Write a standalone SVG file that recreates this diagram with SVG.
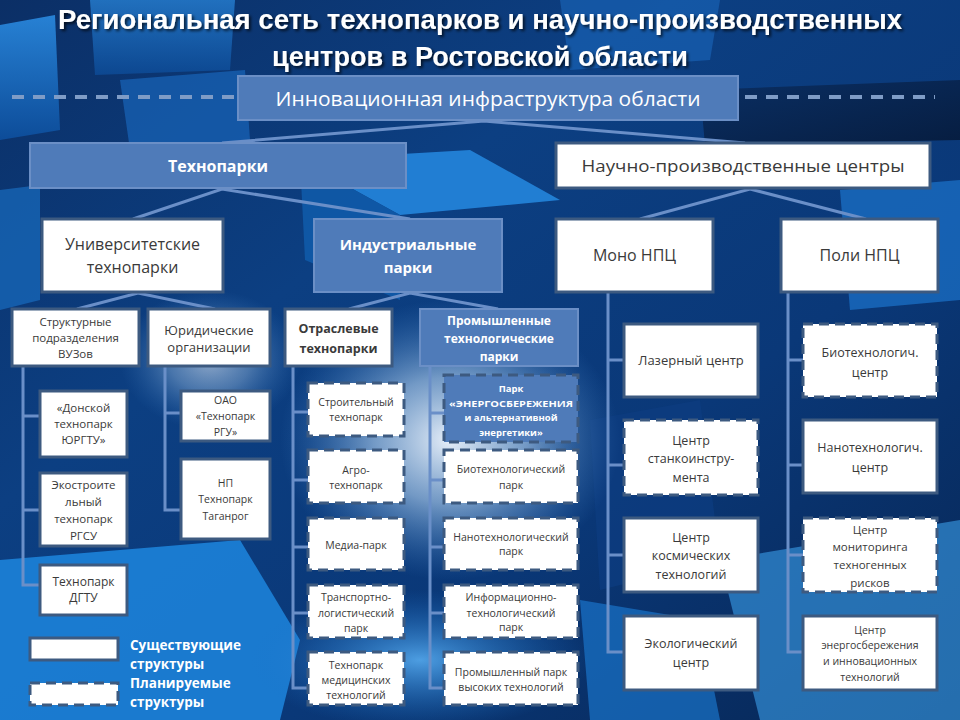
<svg xmlns="http://www.w3.org/2000/svg" width="960" height="720" viewBox="0 0 960 720">
<defs>
<linearGradient id="bg" x1="0" y1="0" x2="1" y2="1">
<stop offset="0" stop-color="#0b2f66"/>
<stop offset="0.35" stop-color="#0c3f82"/>
<stop offset="0.65" stop-color="#0a3878"/>
<stop offset="1" stop-color="#072654"/>
</linearGradient>
<linearGradient id="cubeA" x1="0" y1="0" x2="0" y2="1">
<stop offset="0" stop-color="#2a8ae0"/>
<stop offset="1" stop-color="#0d4f9e"/>
</linearGradient>
<linearGradient id="cubeB" x1="0" y1="0" x2="1" y2="1">
<stop offset="0" stop-color="#0a2d60"/>
<stop offset="1" stop-color="#061a3a"/>
</linearGradient>
<radialGradient id="glow" cx="0.5" cy="0.5" r="0.5">
<stop offset="0" stop-color="#f2f8ff" stop-opacity="0.95"/>
<stop offset="0.45" stop-color="#b8d8f6" stop-opacity="0.6"/>
<stop offset="1" stop-color="#4a90d8" stop-opacity="0"/>
</radialGradient>
<radialGradient id="glow2" cx="0.5" cy="0.5" r="0.5">
<stop offset="0" stop-color="#59b0f5" stop-opacity="0.85"/>
<stop offset="1" stop-color="#1a70c8" stop-opacity="0"/>
</radialGradient>
<filter id="shadow" x="-5%" y="-20%" width="110%" height="150%">
<feDropShadow dx="2" dy="2" stdDeviation="1.5" flood-color="#000" flood-opacity="0.7"/>
</filter>
<style>
.conn{stroke:#6a8fc8;stroke-width:3;fill:none}
.box{fill:#fff;stroke:#3d5a80;stroke-width:3}
.plan{fill:#fff;stroke:#3d5a80;stroke-width:3;stroke-dasharray:10 6}
.blue{fill:#4f7bb9;stroke:#6b8fc6;stroke-width:2}
.blueplan{fill:#4f7bb9;stroke:#3d5a80;stroke-width:3;stroke-dasharray:10 6}
text{font-family:"Open Sans","DejaVu Sans",sans-serif;text-anchor:middle;fill:#3a3a3a}
.w{fill:#fff}
.b{font-weight:bold}
.title{font-family:"Liberation Sans","Open Sans",sans-serif;font-weight:bold;font-size:27px;fill:#fff}
.leg{text-anchor:start;fill:#fff;font-weight:bold;font-size:13.5px}
</style>
</defs>

<g id="background">
<rect width="960" height="720" fill="url(#bg)"/>
<polygon points="0,25 55,15 60,130 0,140" fill="url(#cubeA)" opacity="0.9"/>
<polygon points="90,0 235,0 230,70 95,75" fill="url(#cubeA)" opacity="0.7"/>
<polygon points="120,80 245,70 250,140 130,150" fill="#1a6cc4" opacity="0.6"/>
<polygon points="300,160 470,150 560,200 400,215" fill="#2385dc" opacity="0.9"/>
<polygon points="300,160 400,215 400,300 305,260" fill="#0f5aa8" opacity="0.9"/>
<polygon points="560,0 720,0 710,60 570,70" fill="#1a68bd" opacity="0.6"/>
<polygon points="700,90 960,80 960,140 705,145" fill="url(#cubeB)" opacity="0.9"/>
<polygon points="840,190 960,180 960,300 850,310" fill="#1b74cc" opacity="0.7"/>
<polygon points="0,190 40,185 40,300 0,310" fill="#1b74cc" opacity="0.6"/>
<polygon points="0,560 240,540 300,640 280,720 0,720" fill="#1d86de" opacity="0.85"/>
<polygon points="720,560 960,520 960,720 760,720" fill="#3a9ee9" opacity="0.6"/>
<polygon points="590,420 700,400 720,560 600,590" fill="#0c3c80" opacity="0.8"/>
<polygon points="580,600 700,620 720,720 590,720" fill="#1d7fd8" opacity="0.6"/>
<ellipse cx="450" cy="440" rx="170" ry="140" fill="url(#glow)"/>
<ellipse cx="210" cy="360" rx="90" ry="70" fill="url(#glow)" opacity="0.6"/>
<ellipse cx="420" cy="660" rx="170" ry="70" fill="url(#glow2)"/>
</g>

<g id="title" filter="url(#shadow)">
<text class="title" x="480" y="29" textLength="844" lengthAdjust="spacingAndGlyphs">Региональная сеть технопарков и научно-производственных</text>
<text class="title" x="480" y="66" textLength="416" lengthAdjust="spacingAndGlyphs">центров в Ростовской области</text>
</g>

<g id="connectors">
<line x1="12" y1="97" x2="238" y2="97" stroke="#7f9cc6" stroke-width="4" stroke-dasharray="12 9"/>
<line x1="745" y1="97" x2="935" y2="97" stroke="#7f9cc6" stroke-width="4" stroke-dasharray="12 9"/>
<polyline class="conn" points="222,143 484,121 745,143"/>
<polyline class="conn" points="133,219 222,189 410,219"/>
<polyline class="conn" points="640,219 750,189 866,219"/>
<polyline class="conn" points="77,309 138,293 215,309"/>
<polyline class="conn" points="349,309 410,293 498,309"/>
<polyline class="conn" points="23,366 23,585 40,585"/>
<line class="conn" x1="23" y1="416" x2="40" y2="416"/>
<line class="conn" x1="23" y1="510" x2="40" y2="510"/>
<polyline class="conn" points="165,366 165,510 181,510"/>
<line class="conn" x1="165" y1="413" x2="181" y2="413"/>
<polyline class="conn" points="293,366 293,688 308,688"/>
<line class="conn" x1="293" y1="412" x2="308" y2="412"/>
<line class="conn" x1="293" y1="480" x2="308" y2="480"/>
<line class="conn" x1="293" y1="547" x2="308" y2="547"/>
<line class="conn" x1="293" y1="613" x2="308" y2="613"/>
<polyline class="conn" points="430,366 430,688 444,688"/>
<line class="conn" x1="430" y1="413" x2="444" y2="413"/>
<line class="conn" x1="430" y1="480" x2="444" y2="480"/>
<line class="conn" x1="430" y1="547" x2="444" y2="547"/>
<line class="conn" x1="430" y1="613" x2="444" y2="613"/>
<polyline class="conn" points="608,292 608,652 624,652"/>
<line class="conn" x1="608" y1="360" x2="624" y2="360"/>
<line class="conn" x1="608" y1="465" x2="624" y2="465"/>
<line class="conn" x1="608" y1="555" x2="624" y2="555"/>
<polyline class="conn" points="788,292 788,652 803,652"/>
<line class="conn" x1="788" y1="360" x2="803" y2="360"/>
<line class="conn" x1="788" y1="465" x2="803" y2="465"/>
<line class="conn" x1="788" y1="555" x2="803" y2="555"/>
</g>

<g id="n-infra">
<rect class="blue" x="238" y="76" width="500" height="44"/>
<text class="w" x="488" y="106" font-size="20" textLength="425" lengthAdjust="spacingAndGlyphs">Инновационная инфраструктура области</text>
</g>
<g id="n-technoparks">
<rect class="blue" x="30" y="143" width="376" height="45"/>
<text class="w b" x="218" y="172" font-size="16">Технопарки</text>
</g>
<g id="n-npc">
<rect class="box" x="556" y="143" width="374" height="45"/>
<text x="743" y="172" font-size="17" textLength="323" lengthAdjust="spacingAndGlyphs">Научно-производственные  центры</text>
</g>

<g id="n-univ">
<rect class="box" x="42" y="219" width="181" height="73"/>
<text x="132.5" y="249.5" font-size="16">Университетские</text>
<text x="132.5" y="272.5" font-size="16">технопарки</text>
</g>
<g id="n-indus">
<rect class="blue" x="314" y="219" width="188" height="73"/>
<text class="w b" x="408" y="249.5" font-size="15">Индустриальные</text>
<text class="w b" x="408" y="272.5" font-size="15">парки</text>
</g>
<g id="n-mono">
<rect class="box" x="556" y="219" width="157" height="73"/>
<text x="634.5" y="261" font-size="16">Моно НПЦ</text>
</g>
<g id="n-poly">
<rect class="box" x="781" y="219" width="157" height="73"/>
<text x="859.5" y="261" font-size="16">Поли НПЦ</text>
</g>

<g id="n-struct">
<rect class="box" x="12" y="309" width="127" height="57"/>
<text x="75.5" y="326" font-size="11.5">Структурные</text>
<text x="75.5" y="342" font-size="11.5">подразделения</text>
<text x="75.5" y="358" font-size="11.5">ВУЗов</text>
</g>
<g id="n-jur">
<rect class="box" x="148" y="309" width="122" height="57"/>
<text x="209" y="335" font-size="13">Юридические</text>
<text x="209" y="352" font-size="13">организации</text>
</g>
<g id="n-otrasl">
<rect class="box" x="285" y="309" width="107" height="57"/>
<text class="b" x="338.5" y="333" font-size="12.5">Отраслевые</text>
<text class="b" x="338.5" y="353" font-size="12.5">технопарки</text>
</g>
<g id="n-prom">
<rect class="blue" x="420" y="309" width="158" height="57"/>
<text class="w b" x="499" y="324.5" font-size="12">Промышленные</text>
<text class="w b" x="499" y="342.5" font-size="12">технологические</text>
<text class="w b" x="499" y="361" font-size="12">парки</text>
</g>

<g id="n-donskoy">
<rect class="box" x="40" y="391" width="87" height="66"/>
<text x="83.5" y="412" font-size="11.5">«Донской</text>
<text x="83.5" y="428" font-size="11.5">технопарк</text>
<text x="83.5" y="444" font-size="11.5">ЮРГТУ»</text>
</g>
<g id="n-ekostr">
<rect class="box" x="40" y="473" width="87" height="73"/>
<text x="83.5" y="489" font-size="11.5">Экостроите</text>
<text x="83.5" y="506" font-size="11.5">льный</text>
<text x="83.5" y="523" font-size="11.5">технопарк</text>
<text x="83.5" y="540" font-size="11.5">РГСУ</text>
</g>
<g id="n-dgtu">
<rect class="box" x="40" y="565" width="87" height="50"/>
<text x="83.5" y="586" font-size="12">Технопарк</text>
<text x="83.5" y="602" font-size="12">ДГТУ</text>
</g>
<g id="n-oao">
<rect class="box" x="181" y="391" width="89" height="50"/>
<text x="225.5" y="404" font-size="10.5">ОАО</text>
<text x="225.5" y="420" font-size="10.5">«Технопарк</text>
<text x="225.5" y="436" font-size="10.5">РГУ»</text>
</g>
<g id="n-np">
<rect class="box" x="181" y="459" width="89" height="80"/>
<text x="225.5" y="487" font-size="10.5">НП</text>
<text x="225.5" y="503" font-size="10.5">Технопарк</text>
<text x="225.5" y="520" font-size="10.5">Таганрог</text>
</g>

<g id="n-stroit">
<rect class="plan" x="308" y="383" width="96" height="53"/>
<text x="356" y="406" font-size="10.5">Строительный</text>
<text x="356" y="421" font-size="10.5">технопарк</text>
</g>
<g id="n-agro">
<rect class="plan" x="308" y="450" width="96" height="53"/>
<text x="356" y="474" font-size="10.5">Агро-</text>
<text x="356" y="489" font-size="10.5">технопарк</text>
</g>
<g id="n-media">
<rect class="plan" x="308" y="518" width="96" height="52"/>
<text x="356" y="549" font-size="10.5">Медиа-парк</text>
</g>
<g id="n-transp">
<rect class="plan" x="308" y="585" width="96" height="53"/>
<text x="356" y="601" font-size="10.5">Транспортно-</text>
<text x="356" y="617" font-size="10.5">логистический</text>
<text x="356" y="632" font-size="10.5">парк</text>
</g>
<g id="n-medtech">
<rect class="plan" x="308" y="652" width="96" height="53"/>
<text x="356" y="669" font-size="10.5">Технопарк</text>
<text x="356" y="684" font-size="10.5">медицинских</text>
<text x="356" y="699" font-size="10.5">технологий</text>
</g>

<g id="n-energo">
<rect class="blueplan" x="444" y="375" width="134" height="67"/>
<text class="w b" x="511" y="391.5" font-size="9.5">Парк</text>
<text class="w b" x="511" y="406.5" font-size="9.5" textLength="124" lengthAdjust="spacingAndGlyphs">«ЭНЕРГОСБЕРЕЖЕНИЯ</text>
<text class="w b" x="511" y="420.5" font-size="9.5">и альтернативной</text>
<text class="w b" x="511" y="435.5" font-size="9.5">энергетики»</text>
</g>
<g id="n-bio">
<rect class="plan" x="444" y="450" width="134" height="53"/>
<text x="511" y="473" font-size="10.5">Биотехнологический</text>
<text x="511" y="489" font-size="10.5">парк</text>
</g>
<g id="n-nano">
<rect class="plan" x="444" y="518" width="134" height="52"/>
<text x="511" y="540.5" font-size="10.5">Нанотехнологический</text>
<text x="511" y="555" font-size="10.5">парк</text>
</g>
<g id="n-info">
<rect class="plan" x="444" y="585" width="134" height="53"/>
<text x="511" y="601" font-size="10.5">Информационно-</text>
<text x="511" y="617" font-size="10.5">технологический</text>
<text x="511" y="631" font-size="10.5">парк</text>
</g>
<g id="n-promhigh">
<rect class="plan" x="444" y="652" width="134" height="53"/>
<text x="511" y="676" font-size="10.5">Промышленный парк</text>
<text x="511" y="691" font-size="10.5">высоких технологий</text>
</g>

<g id="n-laser">
<rect class="box" x="624" y="324" width="134" height="73"/>
<text x="691" y="365" font-size="13">Лазерный центр</text>
</g>
<g id="n-stanko">
<rect class="plan" x="624" y="420" width="134" height="75"/>
<text x="691" y="444.5" font-size="12.5">Центр</text>
<text x="691" y="462.5" font-size="12.5">станкоинстру-</text>
<text x="691" y="481.5" font-size="12.5">мента</text>
</g>
<g id="n-kosm">
<rect class="box" x="624" y="518" width="134" height="74"/>
<text x="691" y="541.5" font-size="12.5">Центр</text>
<text x="691" y="559.5" font-size="12.5">космических</text>
<text x="691" y="578.5" font-size="12.5">технологий</text>
</g>
<g id="n-ekol">
<rect class="box" x="624" y="616" width="134" height="74"/>
<text x="691" y="647.5" font-size="12.5">Экологический</text>
<text x="691" y="666.5" font-size="12.5">центр</text>
</g>

<g id="n-biocenter">
<rect class="plan" x="803" y="324" width="134" height="73"/>
<text x="870" y="356.5" font-size="12.5">Биотехнологич.</text>
<text x="870" y="376.5" font-size="12.5">центр</text>
</g>
<g id="n-nanocenter">
<rect class="box" x="803" y="420" width="134" height="73"/>
<text x="870" y="451.5" font-size="12.5">Нанотехнологич.</text>
<text x="870" y="471.5" font-size="12.5">центр</text>
</g>
<g id="n-monitor">
<rect class="plan" x="803" y="518" width="134" height="74"/>
<text x="870" y="534" font-size="11.5">Центр</text>
<text x="870" y="551" font-size="11.5">мониторинга</text>
<text x="870" y="569" font-size="11.5">техногенных</text>
<text x="870" y="587" font-size="11.5">рисков</text>
</g>
<g id="n-energocenter">
<rect class="box" x="803" y="616" width="134" height="74"/>
<text x="870" y="634" font-size="10.5">Центр</text>
<text x="870" y="649" font-size="10.5">энергосбережения</text>
<text x="870" y="665" font-size="10.5">и инновационных</text>
<text x="870" y="681" font-size="10.5">технологий</text>
</g>

<g id="legend">
<rect class="box" x="30" y="638" width="88" height="22"/>
<rect class="plan" x="30" y="683" width="88" height="22"/>
<text class="leg" x="130" y="650">Существующие</text>
<text class="leg" x="130" y="669">структуры</text>
<text class="leg" x="130" y="688">Планируемые</text>
<text class="leg" x="130" y="707">структуры</text>
</g>
</svg>
